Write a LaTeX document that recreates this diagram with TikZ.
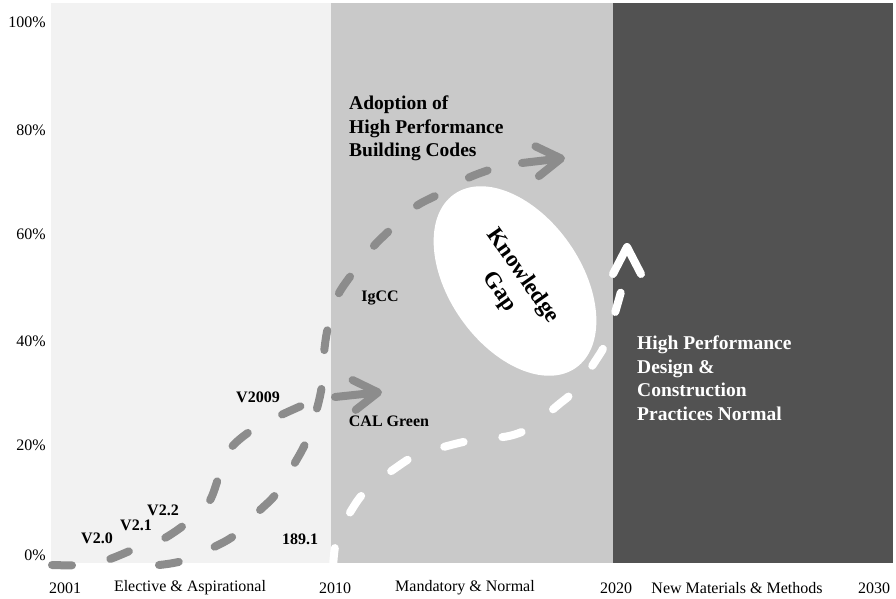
\documentclass[tikz,border=0pt]{standalone}
\usepackage{fontspec}
\setmainfont{Liberation Serif}
\usetikzlibrary{arrows.meta,shapes.geometric}

\definecolor{panellight}{HTML}{F2F2F2}
\definecolor{panelmid}{HTML}{C9C9C9}
\definecolor{paneldark}{HTML}{525252}
\definecolor{dashgrey}{HTML}{8C8C8C}

\tikzset{
  axislabel/.style={font=\fontsize{16}{19}\selectfont, inner sep=0pt},
  marker/.style={font=\bfseries\fontsize{16}{19}\selectfont, inner sep=0pt},
  bigtext/.style={font=\bfseries\fontsize{19.5}{23.5}\selectfont, align=left, anchor=north west, inner sep=0pt},
  greydash/.style={dashgrey, line width=8pt, line cap=round, dash pattern=on 20pt off 39pt},
  whitedash/.style={white, line width=8pt, line cap=round, dash pattern=on 20pt off 39pt},
  greyarrow/.style={dashgrey, line width=8pt, line cap=round, -{Straight Barb[length=24pt,width=30pt,round]}},
}

\begin{document}
\begin{tikzpicture}[x=1pt,y=-1pt]
    \fill[white] (0,0) rectangle (896,599);
    \useasboundingbox (0,0) rectangle (896,599);

    % Panels
    \fill[panellight] (51,3) rectangle (331,563);
    \fill[panelmid] (331,3) rectangle (613,563);
    \fill[paneldark] (613,3) rectangle (893,563);

    % Axis labels
    \foreach \p/\y in {100/22,80/130,60/234,40/341,20/445,0/555}
        \node[axislabel, anchor=east] (y\p) at (46,\y) {\p\%};
    \node[axislabel] (x2001) at (65,588) {2001};
    \node[axislabel] (era1) at (190,588) {Elective \& Aspirational};
    \node[axislabel] (x2010) at (335,588) {2010};
    \node[axislabel] (era2) at (465,588) {Mandatory \& Normal};
    \node[axislabel] (x2020) at (616,588) {2020};
    \node[axislabel] (era3) at (737,588) {New Materials \& Methods};
    \node[axislabel] (x2030) at (874,588) {2030};

    % Knowledge gap
    \node[ellipse, fill=white, minimum width=212pt, minimum height=132pt, rotate=-55] (gap) at (515,281) {};
    \node[font=\bfseries\fontsize{23}{28}\selectfont, align=center, rotate=-55] (gaptext) at (511,284) {Knowledge\\Gap};

    % Curves
    \draw[greydash] plot[smooth, tension=0.55] coordinates {(52,565) (80,565) (107,560) (137,548) (163,539) (188,522) (209,502) (220,473) (230,449) (252,430) (279,416) (301,406)};
    \draw[greyarrow] (335,397) -- (382,392);

    \draw[greydash] plot[smooth, tension=0.55] coordinates {(159,565) (182,561) (212,548) (235,535) (258,512) (276,494) (293,466) (306,442) (316,412) (322,385) (324,353) (328,327) (337,297) (352,274) (372,248) (390,230) (415,207) (437,195) (468,178) (489,170)};
    \draw[greyarrow] (522,163) -- (565,158);

    \draw[whitedash] plot[smooth, tension=0.55] coordinates {(333,568) (337,538) (354,506) (368,489) (397,467) (417,455) (451,445) (474,440) (509,436) (531,427) (558,405) (575,390) (596,360) (606,342) (617,306) (623,284)};
    \draw[white, line width=8pt, line cap=round, line join=round] (613,274) -- (627,247) -- (641,274);

    % Labels
    \node[marker] (v20) at (97,538) {V2.0};
    \node[marker] (v21) at (136,525) {V2.1};
    \node[marker] (v22) at (163,510) {V2.2};
    \node[marker] (v2009) at (258,397) {V2009};
    \node[marker] (s189) at (300,539) {189.1};
    \node[marker] (igcc) at (380,298) {IgCC};
    \node[marker] (calgreen) at (389,421) {CAL Green};
    \node[bigtext] (adoption) at (349,96) {Adoption of\\High Performance\\Building Codes};
    \node[bigtext, text=white] (practice) at (637,336) {High Performance\\Design \&\\Construction\\Practices Normal};
\end{tikzpicture}
\end{document}
